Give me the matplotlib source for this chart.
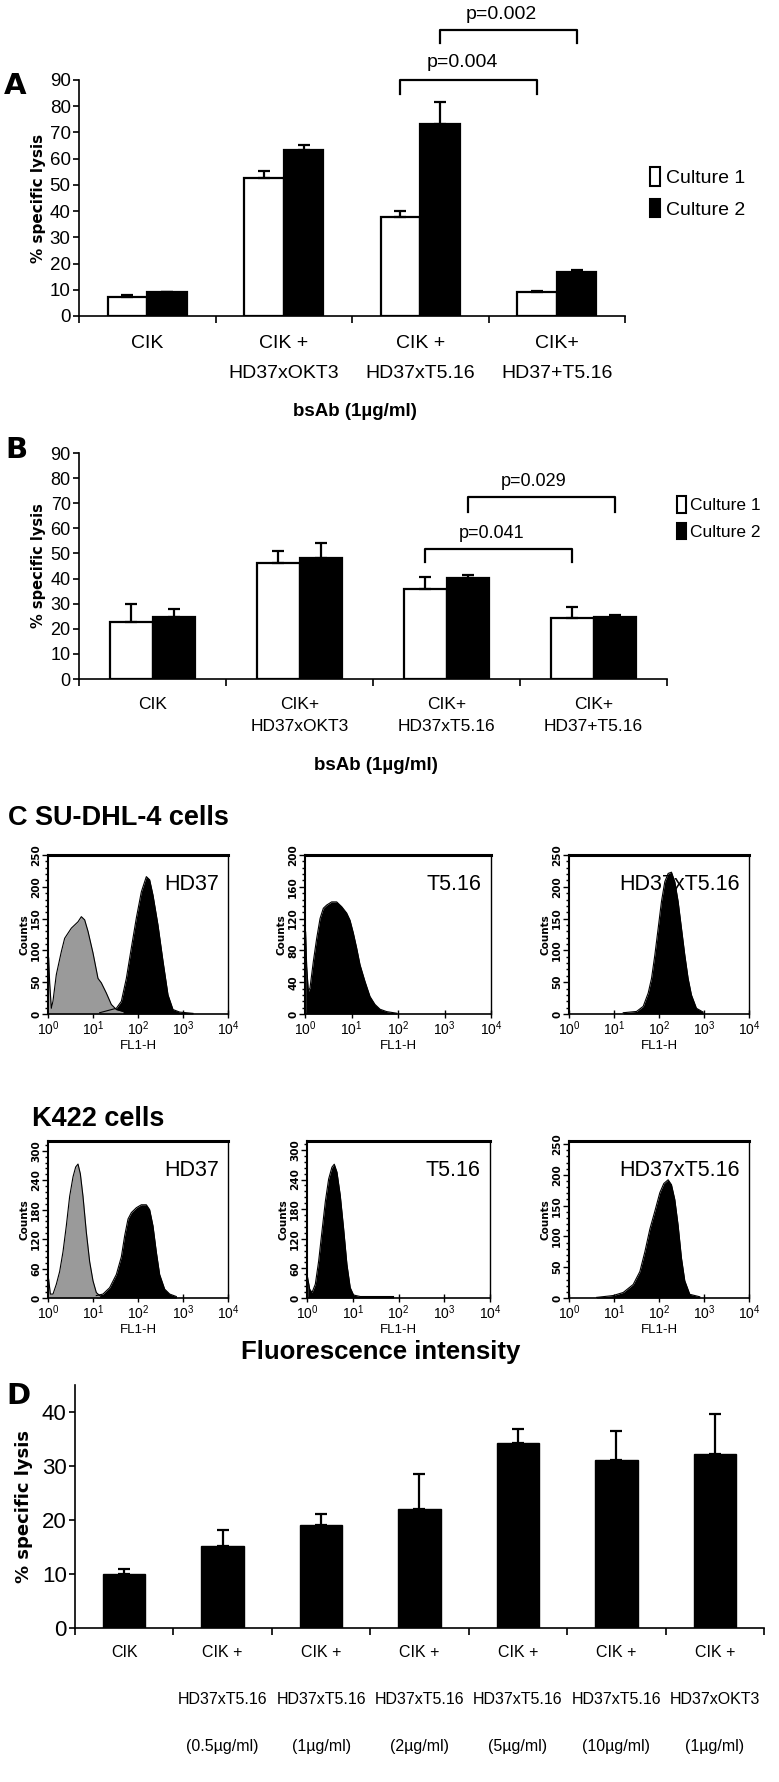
import numpy as np
import matplotlib
matplotlib.use("Agg")
import matplotlib.pyplot as plt
from matplotlib.patches import Patch
from matplotlib.ticker import MultipleLocator, LogLocator, NullFormatter

plt.rcParams['font.family'] = ['Liberation Sans', 'DejaVu Sans']
plt.rcParams['mathtext.default'] = 'regular'

# ---- panel A: % specific lysis, two cultures
cats_a = ["CIK", "CIK +\nHD37xOKT3", "CIK +\nHD37xT5.16", "CIK+\nHD37+T5.16"]
a_c1 = [7.4, 52.7, 37.9, 9.1]
a_c1_err = [0.6, 2.6, 2.0, 0.6]
a_c2 = [9.1, 63.2, 73.4, 16.9]
a_c2_err = [0.1, 2.2, 8.3, 0.6]
a_p_text = ["p=0.004", "p=0.002"]
a_p_top = [90, 109]
a_p_leg = [84.5, 104]
a_p_label_y = [96.5, 115]

# ---- panel B
cats_b = ["CIK", "CIK+\nHD37xOKT3", "CIK+\nHD37xT5.16", "CIK+\nHD37+T5.16"]
b_c1 = [22.8, 46.0, 36.0, 24.1]
b_c1_err = [7.1, 5.0, 4.5, 4.5]
b_c2 = [24.7, 48.0, 40.1, 24.7]
b_c2_err = [3.2, 6.0, 1.3, 0.6]
b_p_text = ["p=0.041", "p=0.029"]
b_p_top = [51.9, 72.5]
b_p_leg = [46.6, 66.5]
b_p_label_y = [57.9, 78.8]

# ---- panel C: flow cytometry histograms (log10 FL1-H, counts)
su_hd37_iso_log = [0.015, 0.037, 0.074, 0.11, 0.185, 0.296, 0.37, 0.444, 0.519, 0.593, 0.667,
                   0.741, 0.815, 0.889, 1.0, 1.111, 1.185, 1.296, 1.407, 1.519, 1.667]
su_hd37_iso_cnt = [88, 49, 9, 20, 62, 98, 119, 127, 135, 140, 145,
                   153, 148, 130, 96, 56, 49, 33, 15, 7, 4]
su_hd37_log = [1.148, 1.519, 1.63, 1.741, 1.852, 1.963, 2.074, 2.185, 2.259, 2.333, 2.444,
               2.556, 2.667, 2.778, 2.926, 3.222]
su_hd37_cnt = [2, 9, 20, 56, 104, 151, 192, 216, 211, 187, 140,
               83, 30, 7, 3, 1]
su_t516_log = [0.014, 0.036, 0.072, 0.108, 0.179, 0.251, 0.323, 0.394, 0.466, 0.573, 0.681,
               0.789, 0.896, 0.968, 1.039, 1.111, 1.183, 1.29, 1.398, 1.505, 1.613, 1.756, 1.971]
su_t516_cnt = [103, 60, 28, 33, 66, 95, 120, 133, 137, 141, 141,
               135, 127, 118, 102, 83, 62, 41, 22, 12, 6, 3, 1]
su_bs_log = [1.205, 1.501, 1.649, 1.76, 1.834, 1.908, 1.982, 2.055, 2.129, 2.203, 2.277,
             2.351, 2.425, 2.499, 2.573, 2.647, 2.721, 2.832, 2.98]
su_bs_cnt = [2, 4, 12, 33, 56, 93, 135, 177, 208, 221, 223,
             208, 177, 135, 93, 56, 30, 9, 3]

k_hd37_iso_log = [0.015, 0.052, 0.111, 0.185, 0.259, 0.333, 0.407, 0.481, 0.556, 0.615, 0.667,
                  0.719, 0.778, 0.852, 0.926, 1.0, 1.074, 1.148]
k_hd37_iso_cnt = [38, 8, 8, 28, 54, 94, 147, 207, 247, 267, 273,
                  253, 207, 134, 74, 35, 11, 5]
k_hd37_log = [1.074, 1.222, 1.37, 1.519, 1.63, 1.704, 1.778, 1.852, 1.963, 2.074, 2.185,
              2.259, 2.333, 2.407, 2.481, 2.593, 2.704, 2.852]
k_hd37_cnt = [5, 8, 21, 48, 84, 127, 161, 174, 184, 190, 190,
              180, 147, 94, 48, 18, 8, 3]
k_t516_log = [0.015, 0.058, 0.109, 0.182, 0.255, 0.327, 0.4, 0.473, 0.545, 0.596, 0.655,
              0.727, 0.8, 0.873, 0.945, 1.018, 1.164, 1.891]
k_t516_cnt = [41, 18, 11, 28, 75, 135, 195, 241, 265, 271, 255,
              208, 141, 68, 21, 6, 3, 3]
k_bs_log = [0.614, 0.983, 1.205, 1.427, 1.575, 1.686, 1.797, 1.908, 2.018, 2.107, 2.203,
            2.277, 2.351, 2.425, 2.499, 2.573, 2.684, 2.906]
k_bs_cnt = [1, 4, 9, 22, 43, 75, 112, 141, 171, 186, 192,
            184, 160, 118, 65, 28, 6, 2]

# ---- panel D: dose titration
cats_d = ["CIK", "CIK +\nHD37xT5.16\n(0.5µg/ml)", "CIK +\nHD37xT5.16\n(1µg/ml)",
          "CIK +\nHD37xT5.16\n(2µg/ml)", "CIK +\nHD37xT5.16\n(5µg/ml)",
          "CIK +\nHD37xT5.16\n(10µg/ml)", "CIK +\nHD37xOKT3\n(1µg/ml)"]
d_vals = [10.0, 15.2, 19.0, 22.1, 34.2, 31.1, 32.2]
d_err = [1.0, 3.0, 2.2, 6.5, 2.7, 5.3, 7.5]

W, H = 779, 1782
fig = plt.figure(figsize=(W / 100, H / 100), dpi=100)


def fx(px):
    return px / W


def fy(py):
    return 1 - py / H


def axes_px(x0, y0, x1, y1):
    return fig.add_axes([x0 / W, 1 - y1 / H, (x1 - x0) / W, (y1 - y0) / H])


def style_bar_axes(ax, n, labels, fs, pad, linesp):
    for s in ['top', 'right']:
        ax.spines[s].set_visible(False)
    for s in ['left', 'bottom']:
        ax.spines[s].set_linewidth(1.2)
    ax.set_xlim(-0.5, n - 0.5)
    ax.set_xticks(np.arange(n + 1) - 0.5)
    ax.set_xticklabels([])
    ax.set_xticks(np.arange(n), minor=True)
    ax.set_xticklabels(labels, minor=True, fontsize=fs, linespacing=linesp)
    ax.tick_params(axis='x', which='major', length=5, width=1.2, direction='out')
    ax.tick_params(axis='x', which='minor', length=0, pad=pad)
    ax.tick_params(axis='y', length=4, width=1.2, direction='out', pad=2)


def paired_panel(ax, cats, c1, e1, c2, e2, ptext, ptop, pleg, plab, fs, pad, linesp, pfs):
    w = 0.29
    x = np.arange(len(cats))
    ax.bar(x - w / 2, c1, w, color='white', edgecolor='black', lw=1.6, zorder=2)
    ax.bar(x + w / 2, c2, w, color='black', edgecolor='black', lw=1.6, zorder=2)
    ax.errorbar(x - w / 2, c1, yerr=[np.zeros(len(c1)), e1], fmt='none', ecolor='black',
                elinewidth=1.6, capsize=4, capthick=1.6, zorder=3)
    ax.errorbar(x + w / 2, c2, yerr=[np.zeros(len(c2)), e2], fmt='none', ecolor='black',
                elinewidth=1.6, capsize=4, capthick=1.6, zorder=3)
    ax.set_ylim(0, 90)
    ax.set_yticks(np.arange(0, 91, 10))
    style_bar_axes(ax, len(cats), cats, fs, pad, linesp)
    # brackets between the 3rd and 4th groups: culture 1 first, then culture 2
    for i, sign in enumerate([-1, 1]):
        xl = 2 + sign * w / 2
        xr = 3 + sign * w / 2
        ax.plot([xl, xl, xr, xr], [pleg[i], ptop[i], ptop[i], pleg[i]], color='black',
                lw=1.6, clip_on=False)
        ax.text((xl + xr) / 2 - 0.05, plab[i], ptext[i], ha='center', va='center',
                fontsize=pfs, clip_on=False)


# ---- A
axA = axes_px(79, 80, 625, 316)
paired_panel(axA, cats_a, a_c1, a_c1_err, a_c2, a_c2_err, a_p_text, a_p_top, a_p_leg,
             a_p_label_y, 14, 14, 1.95, 14)
axA.tick_params(axis='y', labelsize=13.5)
axA.set_ylabel('% specific lysis', fontsize=11, fontweight='bold', family='DejaVu Sans',
               labelpad=3)
axA.legend(handles=[Patch(facecolor='white', edgecolor='black', lw=1.5, label='Culture 1'),
                    Patch(facecolor='black', edgecolor='black', lw=1.5, label='Culture 2')],
           loc='upper left', bbox_to_anchor=(fx(650), fy(167)), bbox_transform=fig.transFigure,
           frameon=False, fontsize=14, handlelength=0.5, handleheight=1.1,
           handletextpad=0.3, labelspacing=0.6, borderpad=0, borderaxespad=0)
fig.text(fx(355), fy(412), 'bsAb (1µg/ml)', ha='center', va='center', fontsize=13.5,
         fontweight='bold')
fig.text(fx(4), fy(86), 'A', ha='left', va='center', fontsize=21, fontweight='bold',
         family='DejaVu Sans')

# ---- B
axB = axes_px(79, 453, 667, 679)
paired_panel(axB, cats_b, b_c1, b_c1_err, b_c2, b_c2_err, b_p_text, b_p_top, b_p_leg,
             b_p_label_y, 12.5, 13, 1.6, 13)
axB.tick_params(axis='y', labelsize=13)
axB.set_ylabel('% specific lysis', fontsize=10.5, fontweight='bold', family='DejaVu Sans',
               labelpad=3)
axB.legend(handles=[Patch(facecolor='white', edgecolor='black', lw=1.5, label='Culture 1'),
                    Patch(facecolor='black', edgecolor='black', lw=1.5, label='Culture 2')],
           loc='upper left', bbox_to_anchor=(fx(677), fy(496)), bbox_transform=fig.transFigure,
           frameon=False, fontsize=12.5, handlelength=0.5, handleheight=1.1,
           handletextpad=0.25, labelspacing=0.55, borderpad=0, borderaxespad=0)
fig.text(fx(376), fy(766), 'bsAb (1µg/ml)', ha='center', va='center', fontsize=13.5,
         fontweight='bold')
fig.text(fx(5), fy(450), 'B', ha='left', va='center', fontsize=21, fontweight='bold',
         family='DejaVu Sans')

# ---- C
GREY = '#9a9a9a'
hist_panels = [
    ((48, 855, 228, 1014), 250, 50, [(su_hd37_log, su_hd37_cnt, 'black'),
                                     (su_hd37_iso_log, su_hd37_iso_cnt, GREY)], 'HD37'),
    ((305, 855, 491, 1014), 200, 40, [(su_t516_log, su_t516_cnt, 'black')], 'T5.16'),
    ((569, 855, 749, 1014), 250, 50, [(su_bs_log, su_bs_cnt, 'black')], 'HD37xT5.16'),
    ((48, 1141, 228, 1298), 320, 60, [(k_hd37_log, k_hd37_cnt, 'black'),
                                      (k_hd37_iso_log, k_hd37_iso_cnt, GREY)], 'HD37'),
    ((307, 1141, 490, 1298), 318, 60, [(k_t516_log, k_t516_cnt, 'black')], 'T5.16'),
    ((569, 1141, 749, 1298), 255, 50, [(k_bs_log, k_bs_cnt, 'black')], 'HD37xT5.16'),
]
for box, ymax, ystep, curves, name in hist_panels:
    ax = axes_px(*box)
    for logx, cnt, col in curves:
        xv = 10 ** np.asarray(logx)
        ax.fill_between(xv, cnt, color=col, lw=0, zorder=2)
        ax.plot(xv, cnt, color='black', lw=0.8, zorder=3)
    ax.set_xscale('log')
    ax.set_xlim(1, 1e4)
    ax.set_ylim(0, ymax)
    ax.set_xticks([1, 10, 100, 1000, 10000])
    ax.set_xticklabels(['$10^{0}$', '$10^{1}$', '$10^{2}$', '$10^{3}$', '$10^{4}$'],
                       fontsize=10)
    ax.xaxis.set_minor_locator(LogLocator(base=10, subs=np.arange(2, 10)))
    ax.xaxis.set_minor_formatter(NullFormatter())
    ax.yaxis.set_major_locator(MultipleLocator(ystep))
    ax.yaxis.set_minor_locator(MultipleLocator(ystep / 5))
    ax.tick_params(axis='x', which='major', direction='inout', length=6, width=1, pad=1)
    ax.tick_params(axis='x', which='minor', direction='in', length=3, width=1)
    ax.tick_params(axis='y', which='major', direction='out', length=4, width=1, pad=1,
                   labelsize=7.5, labelrotation=90)
    ax.tick_params(axis='y', which='minor', direction='out', length=2.5, width=1)
    for lab in ax.get_yticklabels():
        lab.set_fontweight('bold')
        lab.set_family('DejaVu Sans')
        lab.set_va('center')
    ax.spines['top'].set_linewidth(2.2)
    ax.spines['left'].set_linewidth(1.5)
    ax.spines['right'].set_linewidth(1)
    ax.spines['bottom'].set_linewidth(1.2)
    ax.set_xlabel('FL1-H', fontsize=9.5, labelpad=1)
    ax.set_ylabel('Counts', fontsize=7.5, fontweight='bold', family='DejaVu Sans', labelpad=1)
    ax.text(0.95, 0.88, name, transform=ax.transAxes, ha='right', va='top', fontsize=15.5,
            zorder=4)

fig.text(fx(8), fy(818), 'C SU-DHL-4 cells', ha='left', va='center', fontsize=19.5,
         fontweight='bold')
fig.text(fx(32), fy(1119), 'K422 cells', ha='left', va='center', fontsize=19.5,
         fontweight='bold')
fig.text(fx(381), fy(1352), 'Fluorescence intensity', ha='center', va='center', fontsize=18.5,
         fontweight='bold')

# ---- D
axD = axes_px(75, 1385, 764, 1628)
xd = np.arange(len(cats_d))
axD.bar(xd, d_vals, 0.43, color='black', edgecolor='black', zorder=2)
axD.errorbar(xd, d_vals, yerr=[np.zeros(len(d_vals)), d_err], fmt='none', ecolor='black',
             elinewidth=1.6, capsize=4.5, capthick=1.6, zorder=3)
axD.set_ylim(0, 45)
axD.set_yticks(np.arange(0, 41, 10))
style_bar_axes(axD, len(cats_d), cats_d, 11.5, 12, 3.7)
axD.tick_params(axis='y', labelsize=16)
axD.set_ylabel('% specific lysis', fontsize=13, fontweight='bold', family='DejaVu Sans',
               labelpad=6)
fig.text(fx(6), fy(1396), 'D', ha='left', va='center', fontsize=21, fontweight='bold',
         family='DejaVu Sans')

fig.savefig('out.png', dpi=100)
